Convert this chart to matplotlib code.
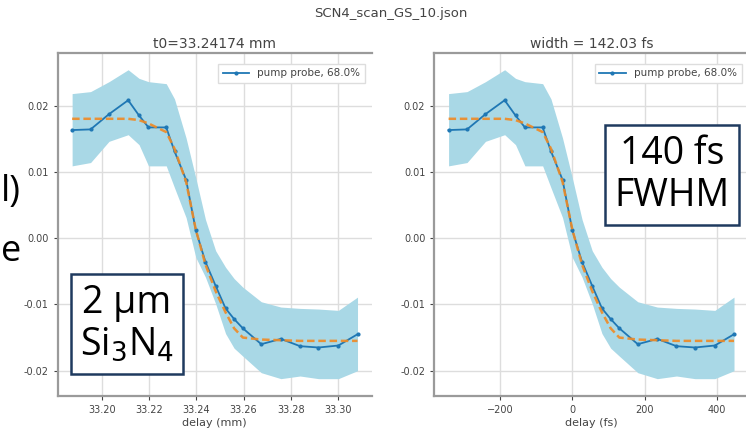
import matplotlib
matplotlib.use("Agg")
import matplotlib.pyplot as plt

# ---- data ----
delay_fs = [-342, -291, -240, -187, -157, -131, -82, -59, -27, 0, 27, 55,
            82, 106, 130, 181, 235, 288, 339, 394, 447]
position_mm = [33.1875, 33.1953, 33.2031, 33.2112, 33.2158, 33.2198, 33.2273,
               33.2308, 33.2357, 33.2398, 33.2439, 33.2482, 33.2524, 33.2560,
               33.2597, 33.2675, 33.2758, 33.2839, 33.2917, 33.3001, 33.3082]
signal = [0.0163, 0.0164, 0.0187, 0.0208, 0.0185, 0.0167, 0.0167, 0.0131,
          0.0088, 0.0012, -0.0036, -0.0072, -0.0106, -0.0122, -0.0136,
          -0.0160, -0.0152, -0.0163, -0.0165, -0.0162, -0.0145]
band_upper = [0.0218, 0.0221, 0.0236, 0.0254, 0.0241, 0.0236, 0.0233, 0.0210,
              0.0151, 0.0091, 0.0028, -0.0019, -0.0044, -0.0061, -0.0074,
              -0.0096, -0.0104, -0.0106, -0.0107, -0.0109, -0.0089]
band_lower = [0.0109, 0.0114, 0.0146, 0.0156, 0.0141, 0.0109, 0.0109, 0.0076,
              0.0031, -0.0029, -0.0059, -0.0099, -0.0144, -0.0166, -0.0178,
              -0.0203, -0.0212, -0.0208, -0.0212, -0.0212, -0.0200]
fit = [0.0180, 0.0180, 0.0180, 0.0180, 0.0178, 0.0173, 0.0160, 0.0135,
       0.0085, 0.0013, -0.0040, -0.0080, -0.0112, -0.0136, -0.0150,
       -0.0153, -0.0154, -0.0155, -0.0155, -0.0155, -0.0155]

left_xticks = [33.20, 33.22, 33.24, 33.26, 33.28, 33.30]
right_xticks = [-200, 0, 200, 400]
yticks = [-0.02, -0.01, 0.00, 0.01, 0.02]

suptitle = "SCN4_scan_GS_10.json"
left_title = "t0=33.24174 mm"
right_title = "width = 142.03 fs"
legend_label = "pump probe, 68.0%"

W, H = 746, 436
fig = plt.figure(figsize=(W / 100, H / 100), dpi=100)

txt_col = "#444444"
spine_col = "#9a9a9a"

def style(ax):
    ax.grid(True, color="#dddddd", linewidth=1.0)
    ax.set_axisbelow(True)
    for s in ("left", "top", "bottom"):
        ax.spines[s].set_color(spine_col)
        ax.spines[s].set_linewidth(1.6)
    ax.spines["right"].set_visible(False)
    ax.tick_params(labelsize=7, colors=txt_col, length=3, width=0.8,
                   labelcolor=txt_col)
    ax.set_ylim(-0.02377, 0.02788)
    ax.set_yticks(yticks)

axL = fig.add_axes([57.7 / W, 1 - 395.7 / H, 314 / W, 342.4 / H])
axR = fig.add_axes([434.3 / W, 1 - 395.7 / H, 314 / W, 342.4 / H])

for ax, xs in ((axL, position_mm), (axR, delay_fs)):
    ax.fill_between(xs, band_lower, band_upper, color="#a9d8e6", linewidth=0)
    ax.plot(xs, signal, color="#1f77b4", marker=".", markersize=4,
            linewidth=1.3, label=legend_label)
    ax.plot(xs, fit, color="#f08a24", linestyle="--", dashes=(3, 1.5),
            linewidth=1.8, alpha=0.9)
    style(ax)
    leg = ax.legend(loc="upper right", fontsize=7.5, frameon=True,
                    fancybox=False, edgecolor="#dddddd", framealpha=1,
                    handlelength=2.5, borderpad=0.45,
                    bbox_to_anchor=(0.995, 0.985))
    for t in leg.get_texts():
        t.set_color(txt_col)

axL.set_xlim(33.1814, 33.3142)
axL.set_xticks(left_xticks)
axL.set_xticklabels([f"{v:.2f}" for v in left_xticks])
axL.set_yticklabels([f"{v:.2f}" for v in yticks])
axL.set_xlabel("delay (mm)", fontsize=8, color=txt_col, labelpad=2)
axL.set_title(left_title, fontsize=10, color=txt_col, pad=4)

axR.set_xlim(-381.5, 486.5)
axR.set_xticks(right_xticks)
axR.set_yticklabels([f"{v:.2f}" for v in yticks])
axR.set_xlabel("delay (fs)", fontsize=8, color=txt_col, labelpad=2)
axR.set_title(right_title, fontsize=10, color=txt_col, pad=4)

fig.text(391 / W, 1 - 14 / H, suptitle, fontsize=9.5, color=txt_col,
         ha="center", va="center")

# overlay annotation boxes from the slide
box_font = ["Open Sans", "DejaVu Sans"]
fig.text(127 / W, 1 - 324 / H, "2 µm\nSi$_3$N$_4$", fontsize=27, family=box_font,
         color="black", ha="center", va="center", linespacing=1.15,
         bbox=dict(boxstyle="square,pad=0.25", facecolor="white",
                   edgecolor="#1f3a5f", linewidth=1.8))
fig.text(672 / W, 1 - 175 / H, "140 fs\nFWHM", fontsize=27, family=box_font,
         color="black", ha="center", va="center", linespacing=1.15,
         bbox=dict(boxstyle="square,pad=0.25", facecolor="white",
                   edgecolor="#1f3a5f", linewidth=1.8))

# cropped slide text fragments at the left edge
fig.text(1 / W, 1 - 192 / H, "l)", fontsize=26, family=box_font,
         color="black", ha="left", va="center")
fig.text(1 / W, 1 - 252 / H, "e", fontsize=26, family=box_font,
         color="black", ha="left", va="center")

fig.savefig("out.png", dpi=100)
